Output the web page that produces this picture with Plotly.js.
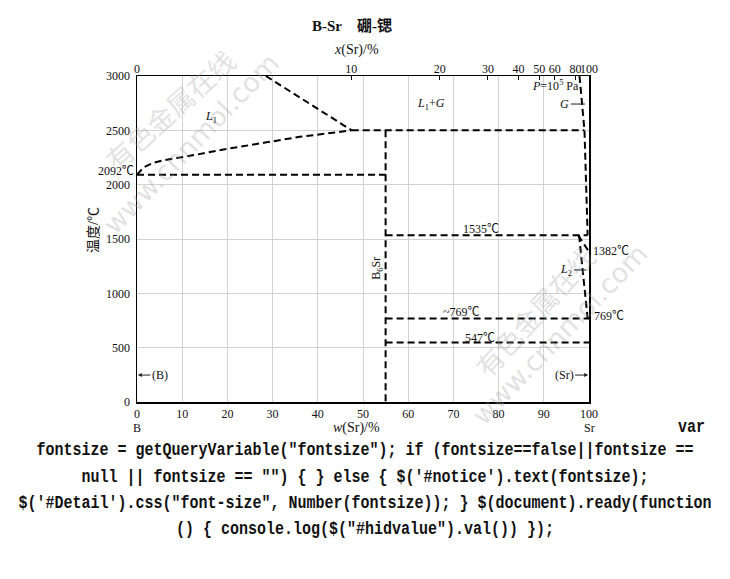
<!DOCTYPE html>
<html>
<head>
<meta charset="utf-8">
<script src="https://cdn.plot.ly/plotly-3.0.1.min.js"></script>
<style>
  html, body { margin:0; padding:0; background:#fff; width:730px; height:579px; overflow:hidden; }
  #chart { position:absolute; left:0; top:0; width:730px; height:440px; }
  .code { position:absolute; left:0; width:730px; text-align:center; white-space:pre;
          font-family:"Liberation Mono","DejaVu Sans Mono",monospace; font-weight:bold; font-size:15px;
          color:#111; transform:scaleY(1.2); line-height:18px; }
</style>
</head>
<body>
<div id="chart"></div>
<div class="code" id="c0" style="top:419px;left:678px;width:40px;text-align:left;">var</div>
<div class="code" id="c1" style="top:442px;">fontsize = getQueryVariable("fontsize"); if (fontsize==false||fontsize ==</div>
<div class="code" id="c2" style="top:469px;">null || fontsize == "") { } else { $('#notice').text(fontsize);</div>
<div class="code" id="c3" style="top:495px;">$('#Detail').css("font-size", Number(fontsize)); } $(document).ready(function</div>
<div class="code" id="c4" style="top:521px;">() { console.log($("#hidvalue").val()) });</div>
<script>
// ---- data (w(Sr) wt% , temperature °C) ----
const liqW = [0, 1.5, 3.5, 6, 13, 20, 28, 36, 47.5];
const liqT = [2092, 2160, 2200, 2225, 2275, 2330, 2385, 2440, 2500];
const diagW = [28.5, 47.5];
const diagT = [3000, 2500];
const h2092W = [0, 55];
const h2092T = [2092, 2092];
const h2500W = [47.5, 99];
const h2500T = [2500, 2500];
const b6srW = [55, 55];
const b6srT = [2500, 0];
const gasW = [97.9, 99, 99.7];
const gasT = [3000, 2500, 1535];
const h1535W = [55, 99.7];
const h1535T = [1535, 1535];
const s1382W = [97.6, 100];
const s1382T = [1535, 1382];
const l2W = [97.8, 99.7];
const l2T = [1535, 769];
const h769W = [55, 100];
const h769T = [769, 769];
const h547W = [55, 100];
const h547T = [547, 547];

const bottomTicks = [0, 10, 20, 30, 40, 50, 60, 70, 80, 90, 100];
const yTicks = [0, 500, 1000, 1500, 2000, 2500, 3000];
const topMolTicks = [0, 10, 20, 30, 40, 50, 60, 80, 100];

// mol% -> wt% conversion for the top axis
const M_B = 10.81, M_Sr = 87.62;
function molToWt(x) { return 100 * x * M_Sr / (x * M_Sr + (100 - x) * M_B); }
const topTickVals = topMolTicks.map(molToWt);
const topTickText = topMolTicks.map(String);

const serif = '"Liberation Serif","Times New Roman","Noto Sans CJK SC",serif';
const dashLine = {color:'#000', width:2, dash:'7px,4px'};

function seg(x, y) {
  return {x:x, y:y, type:'scatter', mode:'lines', line:dashLine, hoverinfo:'skip', showlegend:false, xaxis:'x', yaxis:'y'};
}
const traces = [
  seg(liqW, liqT), seg(diagW, diagT), seg(h2092W, h2092T), seg(h2500W, h2500T),
  seg(b6srW, b6srT), seg(gasW, gasT), seg(h1535W, h1535T), seg(s1382W, s1382T),
  seg(l2W, l2T), seg(h769W, h769T), seg(h547W, h547T),
  {x:[0,100], y:[0,0], type:'scatter', mode:'none', xaxis:'x2', yaxis:'y', hoverinfo:'skip', showlegend:false}
];

const baseFont = {family:serif, size:12, color:'#111'};
function lab(x, y, text, opts) {
  return Object.assign({x:x, y:y, xref:'x', yref:'y', text:text, showarrow:false, font:baseFont}, opts || {});
}
// pixel-placed label outside the plot area (px, py in page pixels -> paper coords)
function plab(px, py, text, opts) {
  return Object.assign({x:(px-137)/452, y:(402-py)/326, xref:'paper', yref:'paper', text:text, showarrow:false,
    xanchor:'center', yanchor:'middle', font:baseFont}, opts || {});
}
const wm = {family:'"Noto Sans CJK SC","DejaVu Sans",sans-serif', size:27, color:'rgba(160,160,160,0.33)'};
const wm2 = {family:'"DejaVu Sans",sans-serif', size:27, color:'rgba(160,160,160,0.33)'};
const titleFont = {family:serif, size:14, color:'#111'};

const annotations = [
  // watermarks
  lab(7.3, 2690, '有色金属在线', {font:wm, textangle:-42}),
  lab(12, 2380, 'www.cnnmol.com', {font:wm2, textangle:-46}),
  lab(88, 830, '有色金属在线', {font:wm, textangle:-48}),
  lab(93.5, 620, 'www.cnnmol.com', {font:wm2, textangle:-46}),
  // region labels
  lab(16.4, 2623, '<i>L</i><sub>1</sub>'),
  lab(65, 2742, '<i>L</i><sub>1</sub>+<i>G</i>'),
  lab(92.5, 2917, '<i>P</i>=10<sup>5</sup> Pa'),
  lab(99.1, 2742, '<i>G</i>', {showarrow:true, arrowhead:0, arrowwidth:1, arrowcolor:'#222', ax:-20, ay:0}),
  lab(0, 2125, '2092℃', {xanchor:'right', xshift:-1}),
  lab(76.1, 1592, '1535℃'),
  plab(591, 251, '1382℃', {xanchor:'left'}),
  lab(99.4, 1215, '<i>L</i><sub>2</sub>', {showarrow:true, arrowhead:0, arrowwidth:1, arrowcolor:'#222', ax:-20, ay:0}),
  lab(71.9, 828, '~769℃'),
  plab(592, 316, '769℃', {xanchor:'left'}),
  lab(75.9, 589, '547℃'),
  lab(53.2, 1230, 'B<sub>6</sub>Sr', {textangle:-90}),
  lab(0.2, 248, '(B)', {showarrow:true, arrowhead:2, arrowsize:0.8, arrowwidth:1, arrowcolor:'#222', ax:22, ay:0}),
  lab(99.8, 248, '(Sr)', {showarrow:true, arrowhead:2, arrowsize:0.8, arrowwidth:1, arrowcolor:'#222', ax:-24, ay:0}),
  // axis titles
  plab(93, 230, '温度/℃', {textangle:-90, font:{family:serif, size:14, color:'#111'}}),
  plab(356, 50, '<i>x</i>(Sr)/%', {font:titleFont}),
  plab(356, 428, '<i>w</i>(Sr)/%', {font:titleFont}),
  plab(137, 428, 'B'),
  plab(589, 428, 'Sr'),
  // title
  plab(352, 25, '<b>B-Sr</b>    <b>硼-锶</b>', {font:{family:serif, size:15, color:'#111'}})
];

const layout = {
  width:730, height:440,
  margin:{l:137, r:141, t:76, b:38, pad:0},
  paper_bgcolor:'#fff', plot_bgcolor:'#fff',
  showlegend:false,
  xaxis:{range:[0,100], tickvals:bottomTicks, ticktext:bottomTicks.map(String), ticks:'', tickangle:0,
         showgrid:true, gridcolor:'#d2d2d2', gridwidth:1, zeroline:false,
         showline:true, linecolor:'#000', linewidth:1.5, mirror:true,
         tickfont:baseFont, fixedrange:true},
  xaxis2:{range:[0,100], overlaying:'x', side:'top', tickvals:topTickVals, ticktext:topTickText,
          ticks:'inside', ticklen:4, tickcolor:'#000', tickangle:0, showgrid:false, zeroline:false, showline:false,
          tickfont:baseFont, fixedrange:true},
  yaxis:{range:[0,3000], tickvals:yTicks, ticktext:yTicks.map(String), ticks:'', ticklabelstandoff:3,
         showgrid:true, gridcolor:'#d2d2d2', gridwidth:1, zeroline:false,
         showline:true, linecolor:'#000', linewidth:1.5, mirror:true,
         tickfont:baseFont, fixedrange:true},
  annotations:annotations
};

Plotly.newPlot('chart', traces, layout, {displayModeBar:false, staticPlot:true});
</script>
</body>
</html>
